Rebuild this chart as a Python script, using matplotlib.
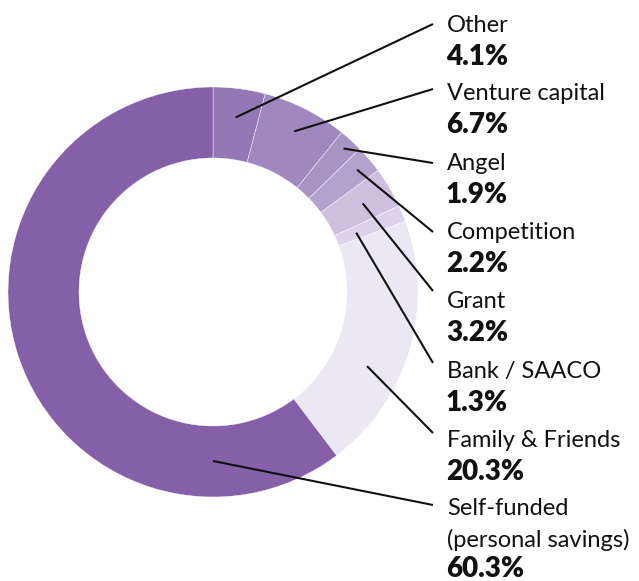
import numpy as np
import matplotlib.pyplot as plt

# Данные
labels = ['Other', 'Venture capital', 'Angel', 'Competition', 'Grant',
          'Bank / SAACO', 'Family & Friends', 'Self-funded\n(personal savings)']
shares = [4.1, 6.7, 1.9, 2.2, 3.2, 1.3, 20.3, 60.3]
colors = ['#9478b6', '#a087bd', '#a993c5', '#b3a2cd', '#cdc0df',
          '#dcd3ea', '#ebe7f4', '#855fa7']

# Геометрия кольца (в пикселях)
cx, cy = 213, 292
r_out, r_in = 205, 134

fig = plt.figure(figsize=(6.39, 5.81), dpi=100)
ax = fig.add_axes([0, 0, 1, 1])

# ось y перевёрнута -> против часовой в данных = по часовой на экране
ax.pie(shares, colors=colors, center=(cx, cy), radius=r_out,
       startangle=-90, counterclock=True,
       wedgeprops=dict(width=r_out - r_in, edgecolor='white', linewidth=0.3))
ax.set_xlim(0, 639)
ax.set_ylim(581, 0)
ax.set_aspect('auto')
ax.axis('off')

# Точки привязки выносок: угол от верха по часовой (None = середина сектора), радиус
anchors = [(None, 176), (None, 180), (None, 194), (None, 189), (None, 174),
           (None, 155), (115.7, 171), (180, 169)]
line_end_y = [24, 89, 163, 232, 291, 363, 433, 505]
name_y = [32, 100, 170, 239, 308, 378, 447, 515]

cum = np.cumsum([0] + shares)
font = ['Lato', 'DejaVu Sans']
for i, lab in enumerate(labels):
    ang, rr = anchors[i]
    if ang is None:
        ang = (cum[i] + shares[i] / 2) / 100 * 360
    a = np.deg2rad(ang)
    px = cx + rr * np.sin(a)
    py = cy - rr * np.cos(a)
    ax.plot([px, 433], [py, line_end_y[i]], color='#111111', lw=1.5,
            solid_capstyle='butt')
    lines = lab.split('\n')
    for k, ln in enumerate(lines):
        ax.text(447, name_y[i] + 32 * k, ln, fontsize=17, family=font,
                color='#111111', va='baseline', ha='left')
    ax.text(446, name_y[i] + 33 + 29 * (len(lines) - 1), f'{shares[i]}%',
            fontsize=20, family=font, fontweight='heavy', color='#111111',
            va='baseline', ha='left')

plt.savefig('out.png', dpi=100)
